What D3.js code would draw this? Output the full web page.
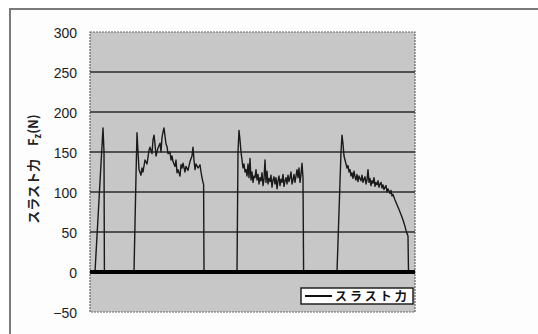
<!DOCTYPE html>
<html><head><meta charset="utf-8">
<script src="https://cdn.jsdelivr.net/npm/d3@7/dist/d3.min.js"></script>
<style>body{margin:0;background:#fff}svg{display:block}</style>
</head><body>
<svg id="c" width="538" height="334"></svg>
<script>
// Data: time (arbitrary units), thrust force Fz (N)
const yTicks = [-50, 0, 50, 100, 150, 200, 250, 300];
const seriesName = "スラスト力";
const seg1 = [[5,0],[9,90],[13,180],[14,150],[14.4,0]];
const seg2 = [[44,0],[46,120],[47,174],[48,150],[49,128],[51,121],[52,130],[53,125],[55,140],[57,135],[59,152],[60,156],[62,148],[63,165],[64,171],[65,160],[66,145],[68,155],[70,161],[71,150],[72,168],[73,175],[74,180],[75,170],[76,160],[77,157],[78,148],[80,150],[81,140],[82,145],[83,138],[85,132],[86,140],[87,124],[88,128],[90,120],[91,134],[92,130],[93,136],[95,125],[96,132],[98,127],[100,138],[102,145],[103,156],[104,140],[105,128],[106,135],[108,130],[110,134],[111,125],[112,118],[113,112],[113.6,110],[114,0]];
const seg3 = [[147,0],[148,150],[149,177],[150,165],[151,150],[152,140],[153,130],[154,135],[155,125],[156,128],[157,120],[158,135],[159,118],[160,142],[161,115],[162,125],[163,112],[164,120],[165,118],[166,128],[167,115],[168,122],[169,110],[170,118],[171,114],[172,124],[173,108],[174,116],[175,140],[176,112],[177,126],[178,110],[179,117],[180,113],[181,121],[182,106],[183,115],[184,119],[185,110],[186,118],[187,104],[188,114],[189,120],[190,108],[191,116],[192,112],[193,122],[194,107],[195,114],[196,118],[197,110],[198,121],[199,113],[200,118],[201,125],[202,110],[203,115],[204,122],[205,112],[206,120],[207,128],[208,118],[209,130],[210,112],[211,122],[212,136],[213,118],[213.6,0]];
const seg4 = [[247,0],[251,150],[252,171],[253,160],[254,145],[255,140],[256,135],[257,130],[258,133],[259,125],[260,128],[261,120],[262,124],[263,117],[264,126],[265,119],[266,115],[267,122],[268,113],[269,120],[270,117],[271,114],[272,121],[273,112],[274,116],[275,119],[276,110],[277,115],[278,128],[279,112],[280,117],[281,108],[282,114],[283,111],[284,118],[285,107],[286,112],[287,109],[288,114],[289,106],[290,110],[291,112],[292,105],[293,109],[294,103],[295,106],[296,108],[297,100],[298,104],[299,101],[300,98],[301,102],[302,95],[303,97],[305,90],[307,84],[309,78],[311,72],[313,65],[315,57],[316,52],[317,48],[318,45],[318.5,0]];
const segments = [seg1, seg2, seg3, seg4];
const xDomain = [0, 325];

const svg = d3.select("#c");
const m = {l: 90, t: 32, r: 415, b: 312};
const x = d3.scaleLinear().domain(xDomain).range([m.l, m.r]);
const y = d3.scaleLinear().domain([-50, 300]).range([m.b, m.t]);

// outer frame
svg.append("rect").attr("x", 10).attr("y", 9).attr("width", 540).attr("height", 340)
  .attr("fill", "#fdfdfd").attr("stroke", "#7a7a7a").attr("stroke-width", 2);

// plot area
svg.append("rect").attr("x", m.l).attr("y", m.t).attr("width", m.r - m.l).attr("height", m.b - m.t)
  .attr("fill", "#c7c7c7").attr("stroke", "#666").attr("stroke-width", 1.2).attr("stroke-dasharray", "2,1");

// gridlines
svg.append("g").selectAll("line").data(yTicks.filter(d => d > -50 && d < 300 && d !== 0)).join("line")
  .attr("x1", m.l).attr("x2", m.r).attr("y1", d => y(d)).attr("y2", d => y(d))
  .attr("stroke", "#2a2a2a").attr("stroke-width", 1.3);

// y axis labels
const ya = svg.append("g").attr("transform", `translate(${m.l - 13},0)`)
  .call(d3.axisLeft(y).tickValues(yTicks).tickSize(0).tickPadding(0));
ya.select(".domain").remove();
ya.selectAll("text").attr("font-family", "Liberation Sans, Arial, sans-serif").attr("font-size", 14)
  .attr("fill", "#222").attr("dy", "0.36em");

// data
const line = d3.line().x(d => x(d[0])).y(d => y(d[1]));
segments.forEach(s => {
  svg.append("path").attr("d", line(s)).attr("fill", "none").attr("stroke", "#1a1a1a")
    .attr("stroke-width", 1.4).attr("stroke-linejoin", "round");
});

// zero line
svg.append("line").attr("x1", m.l).attr("x2", m.r).attr("y1", y(0)).attr("y2", y(0))
  .attr("stroke", "#000").attr("stroke-width", 4);

// y title
const yt = svg.append("text").attr("transform", "translate(38,169) rotate(-90)")
  .attr("text-anchor", "middle").attr("font-family", "Noto Sans CJK JP, sans-serif")
  .attr("font-size", 13).attr("font-weight", "bold").attr("fill", "#222");
yt.append("tspan").text(seriesName + "\u3000F");
yt.append("tspan").attr("font-size", 9).attr("dy", 3).text("z");
yt.append("tspan").attr("dy", -3).text("(N)");

// legend
const lg = svg.append("g");
lg.append("rect").attr("x", 301).attr("y", 288).attr("width", 112).attr("height", 16)
  .attr("fill", "#fff").attr("stroke", "#222").attr("stroke-width", 1.5);
lg.append("line").attr("x1", 305).attr("x2", 332).attr("y1", 296).attr("y2", 296)
  .attr("stroke", "#111").attr("stroke-width", 2);
lg.append("text").attr("x", 335).attr("y", 300.5).attr("font-family", "Noto Sans CJK JP, sans-serif")
  .attr("font-size", 12).attr("font-weight", "bold").attr("letter-spacing", 3).attr("fill", "#111").text(seriesName);
</script>
</body></html>
